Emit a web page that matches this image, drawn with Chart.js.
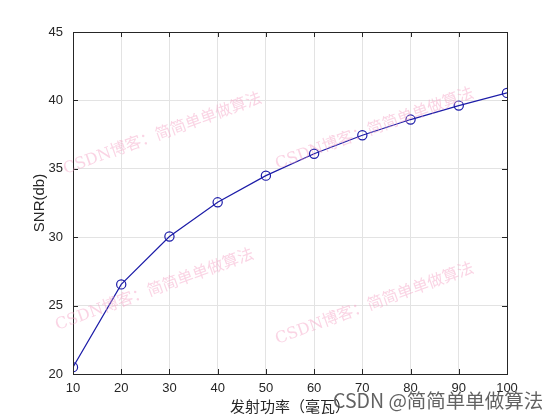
<!DOCTYPE html>
<html><head><meta charset="utf-8">
<script src="https://cdn.jsdelivr.net/npm/chart.js@4/dist/chart.umd.min.js"></script>
<style>html,body{margin:0;padding:0;background:#fff}#wrap{width:560px;height:420px;position:relative}</style>
</head><body><div id="wrap"><canvas id="c" width="560" height="420"></canvas></div>
<script>
const powerMw = [10, 20, 30, 40, 50, 60, 70, 80, 90, 100];
const snrDb = [20.5, 26.55, 30.05, 32.55, 34.5, 36.1, 37.45, 38.6, 39.62, 40.55];
const xTicks = [10, 20, 30, 40, 50, 60, 70, 80, 90, 100];
const yTicks = [20, 25, 30, 35, 40, 45];
const xTitle = '发射功率（毫瓦）';
const yTitle = 'SNR(db)';
const watermark = 'CSDN博客：简简单单做算法';
const credit = 'CSDN @简简单单做算法';

const boxPlugin = {
  id: 'box',
  afterDraw(chart) {
    const {ctx, chartArea: a, scales: {x, y}} = chart;
    ctx.save();
    ctx.strokeStyle = '#262626'; ctx.lineWidth = 1;
    ctx.beginPath();
    xTicks.forEach(v => { const px = Math.round(x.getPixelForValue(v)) + 0.5;
      ctx.moveTo(px, a.bottom); ctx.lineTo(px, a.bottom - 5);
      ctx.moveTo(px, a.top); ctx.lineTo(px, a.top + 5); });
    yTicks.forEach(v => { const py = Math.round(y.getPixelForValue(v)) + 0.5;
      ctx.moveTo(a.left, py); ctx.lineTo(a.left + 5, py);
      ctx.moveTo(a.right, py); ctx.lineTo(a.right - 5, py); });
    ctx.stroke();
    ctx.strokeRect(Math.round(a.left) + 0.5, Math.round(a.top) + 0.5, Math.round(a.right - a.left), Math.round(a.bottom - a.top));
    // watermarks
    ctx.fillStyle = 'rgba(245,160,195,0.45)';
    ctx.font = '16px "DejaVu Serif", "Noto Sans CJK SC", serif';
    const spots = [[64,170],[276,165],[56,326],[276,340]];
    spots.forEach(([sx, sy]) => { ctx.save(); ctx.translate(sx, sy); ctx.rotate(-20 * Math.PI / 180);
      ctx.textAlign = 'left'; ctx.textBaseline = 'middle'; ctx.fillText(watermark, 0, 0); ctx.restore(); });
    // axis titles
    ctx.fillStyle = '#262626';
    ctx.font = '15px "Noto Sans CJK SC", serif';
    ctx.textAlign = 'center'; ctx.textBaseline = 'middle';
    ctx.fillText(xTitle, (a.left + a.right) / 2, 406);
    ctx.save(); ctx.translate(40, (a.top + a.bottom) / 2); ctx.rotate(-Math.PI / 2);
    ctx.font = '15px "Liberation Sans", Arial, sans-serif';
    ctx.fillText(yTitle, 0, 0); ctx.restore();
    ctx.fillStyle = 'rgba(70,70,70,0.85)';
    ctx.font = '19.5px "Noto Sans CJK SC", sans-serif';
    ctx.textAlign = 'left';
    ctx.fillText(credit, 333, 401);
    ctx.restore();
  }
};

new Chart(document.getElementById('c'), {
  type: 'line',
  data: { labels: powerMw, datasets: [{
    data: powerMw.map((v, i) => ({x: v, y: snrDb[i]})),
    borderColor: '#1c1ca8', borderWidth: 1.2,
    pointStyle: 'circle', pointRadius: 4.6, pointBorderColor: '#1c1ca8',
    pointBackgroundColor: 'rgba(0,0,0,0)', pointBorderWidth: 1.2, tension: 0
  }]},
  options: {
    responsive: false, animation: false, devicePixelRatio: 1,
    layout: { padding: { left: 0, top: 32, right: 53, bottom: 0 } },
    plugins: { legend: { display: false }, tooltip: { enabled: false } },
    scales: {
      x: { type: 'linear', min: 10, max: 100,
        afterFit(s) { s.height = 46; },
        afterBuildTicks(s) { s.ticks = xTicks.map(v => ({value: v})); },
        grid: { color: '#e3e3e3', drawTicks: false },
        border: { display: false },
        ticks: { padding: 7, color: '#262626', font: { family: '"Liberation Sans", Arial', size: 13 }, maxRotation: 0 } },
      y: { type: 'linear', min: 20, max: 45,
        afterFit(s) { s.width = 73; },
        afterBuildTicks(s) { s.ticks = yTicks.map(v => ({value: v})); },
        grid: { color: '#e3e3e3', drawTicks: false },
        border: { display: false },
        ticks: { padding: 10, color: '#262626', font: { family: '"Liberation Sans", Arial', size: 13 } } }
    }
  },
  plugins: [boxPlugin]
});
</script></body></html>
